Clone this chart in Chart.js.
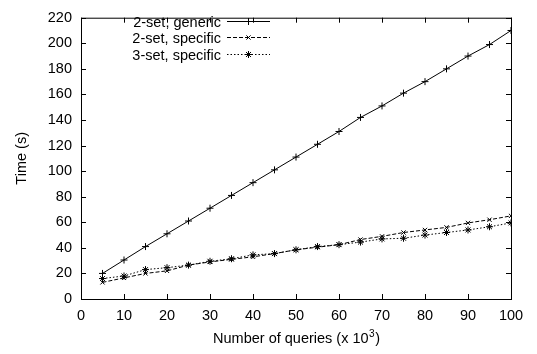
<!DOCTYPE html>
<html>
<head>
<meta charset="utf-8">
<title>Time vs number of queries</title>
<script src="https://cdn.jsdelivr.net/npm/chart.js@4.4.0/dist/chart.umd.min.js"></script>
<style>
    html, body { margin: 0; padding: 0; background: #fff; }
    #wrap { width: 537px; height: 354px; position: relative; }
</style>
</head>
<body>
<div id="wrap"><canvas id="chart" width="537" height="354"></canvas></div>
<script>
// values, queries in thousands, time in seconds
var queries = [5, 10, 15, 20, 25, 30, 35, 40, 45, 50, 55, 60, 65, 70, 75, 80, 85, 90, 95, 100];
var genericTimes = [20, 30.5, 41, 51, 61, 71, 81, 91, 101, 111, 121, 131, 142, 151, 161, 170, 180, 190, 199, 210];
var specific2Times = [13, 16.5, 20, 22, 26.5, 29, 31, 33, 35.5, 38.5, 40.5, 42.5, 46.5, 49, 52, 54, 56, 59.5, 62, 65];
var specific3Times = [16, 18, 23, 24.5, 26.5, 29.5, 31.5, 34.5, 35.5, 38.5, 41, 42.5, 44.5, 47, 47.5, 50, 52, 54, 56.5, 59.5];
var seriesLabels = ["2-set, generic", "2-set, specific", "3-set, specific"];
var xTicks = [0, 10, 20, 30, 40, 50, 60, 70, 80, 90, 100];
var yTicks = [0, 20, 40, 60, 80, 100, 120, 140, 160, 180, 200, 220];

(function(global){
    "use strict";

    var FAMILY = "'Liberation Sans', Arial, Helvetica, sans-serif";
    var FONT = "14.5px " + FAMILY;

    var toPoints = function(values) {
        var pts = [];
        for(var i = 0; i < queries.length; i++) {
            pts.push({x: queries[i], y: values[i]});
        }
        return pts;
    };

    var makeSet = function(label, values, dash, style, radius) {
        return {
            label: label,
            data: toPoints(values),
            borderColor: "#000",
            backgroundColor: "#000",
            borderWidth: 1,
            borderDash: dash,
            pointStyle: style,
            pointRadius: radius,
            pointBorderWidth: 1,
            pointBorderColor: "#000",
            pointHoverRadius: radius,
            tension: 0,
            fill: false
        };
    };

    // gnuplot style frame: box with inward ticks on all four sides
    var framePlugin = {
        id: "frame",
        afterDraw: function(chart) {
            var ctx = chart.ctx;
            var a = chart.chartArea;
            var xs = chart.scales.x, ys = chart.scales.y;
            var len = 5;
            ctx.save();
            ctx.strokeStyle = "#000";
            ctx.lineWidth = 1;
            ctx.strokeRect(a.left + 0.5, a.top + 0.5, a.right - a.left, a.bottom - a.top);
            ctx.beginPath();
            for(var i = 0; i < xTicks.length; i++) {
                var px = Math.round(xs.getPixelForValue(xTicks[i])) + 0.5;
                ctx.moveTo(px, a.bottom);
                ctx.lineTo(px, a.bottom - len);
                ctx.moveTo(px, a.top);
                ctx.lineTo(px, a.top + len);
            }
            for(var j = 0; j < yTicks.length; j++) {
                var py = Math.round(ys.getPixelForValue(yTicks[j])) + 0.5;
                ctx.moveTo(a.left, py);
                ctx.lineTo(a.left + len, py);
                ctx.moveTo(a.right, py);
                ctx.lineTo(a.right - len, py);
            }
            ctx.stroke();

            // axis titles
            ctx.fillStyle = "#000";
            ctx.textBaseline = "middle";
            var main = "Number of queries (x 10";
            var sup = "3";
            var close = ")";
            var supFont = "10px " + FAMILY;
            ctx.font = FONT;
            var wMain = ctx.measureText(main).width;
            var wClose = ctx.measureText(close).width;
            ctx.font = supFont;
            var wSup = ctx.measureText(sup).width;
            var cx = (a.left + a.right) / 2;
            var tx = cx - (wMain + wSup + wClose) / 2;
            var ty = 339;
            ctx.textAlign = "left";
            ctx.font = FONT;
            ctx.fillText(main, tx, ty);
            ctx.font = supFont;
            ctx.fillText(sup, tx + wMain + 0.5, ty - 5);
            ctx.font = FONT;
            ctx.fillText(close, tx + wMain + wSup + 1, ty);

            ctx.save();
            ctx.translate(22, (a.top + a.bottom) / 2);
            ctx.rotate(-Math.PI / 2);
            ctx.textAlign = "center";
            ctx.fillText("Time (s)", 0, 0);
            ctx.restore();

            ctx.restore();
        }
    };

    // key in the top left corner: text right aligned, line sample on the right
    var keyPlugin = {
        id: "key",
        afterDraw: function(chart) {
            var ctx = chart.ctx;
            var sets = chart.data.datasets;
            var textRight = 221, lineFrom = 227, lineTo = 270;
            var rowTop = 21, rowStep = 16.3;
            ctx.save();
            ctx.font = FONT;
            ctx.fillStyle = "#000";
            ctx.textAlign = "right";
            ctx.textBaseline = "middle";
            for(var i = 0; i < sets.length; i++) {
                var ds = sets[i];
                var y = Math.round(rowTop + i * rowStep) + 0.5;
                ctx.fillText(ds.label, textRight, y + 1);
                ctx.strokeStyle = "#000";
                ctx.lineWidth = 1;
                ctx.setLineDash(ds.borderDash || []);
                ctx.beginPath();
                ctx.moveTo(lineFrom, y);
                ctx.lineTo(lineTo, y);
                ctx.stroke();
                ctx.setLineDash([]);
                Chart.helpers.drawPoint(ctx, {
                    pointStyle: ds.pointStyle,
                    radius: ds.pointRadius,
                    borderWidth: 1,
                    rotation: 0
                }, (lineFrom + lineTo) / 2, y);
            }
            ctx.restore();
        }
    };

    var ctx = document.getElementById("chart").getContext("2d");

    global.timeChart = new Chart(ctx, {
        type: "line",
        data: {
            datasets: [
                makeSet(seriesLabels[0], genericTimes, [], "cross", 3.5),
                makeSet(seriesLabels[1], specific2Times, [4, 2], "crossRot", 3),
                makeSet(seriesLabels[2], specific3Times, [1.5, 2], "star", 3.5)
            ]
        },
        options: {
            responsive: false,
            animation: false,
            events: [],
            layout: {
                padding: {left: 0, right: 26, top: 10, bottom: 0}
            },
            plugins: {
                legend: {display: false},
                tooltip: {enabled: false}
            },
            scales: {
                x: {
                    type: "linear",
                    min: 0,
                    max: 100,
                    afterFit: function(scale) { scale.height = 55; },
                    afterBuildTicks: function(scale) {
                        scale.ticks = xTicks.map(function(v){ return {value: v}; });
                    },
                    grid: {display: false, drawTicks: false},
                    border: {display: false},
                    ticks: {
                        color: "#000",
                        padding: 8,
                        maxRotation: 0,
                        font: {family: FAMILY, size: 14.5}
                    }
                },
                y: {
                    type: "linear",
                    min: 0,
                    max: 220,
                    afterFit: function(scale) { scale.width = 81; },
                    afterBuildTicks: function(scale) {
                        scale.ticks = yTicks.map(function(v){ return {value: v}; });
                    },
                    grid: {display: false, drawTicks: false},
                    border: {display: false},
                    ticks: {
                        color: "#000",
                        padding: 9,
                        font: {family: FAMILY, size: 14.5}
                    }
                }
            }
        },
        plugins: [framePlugin, keyPlugin]
    });

})(window);
</script>
</body>
</html>
